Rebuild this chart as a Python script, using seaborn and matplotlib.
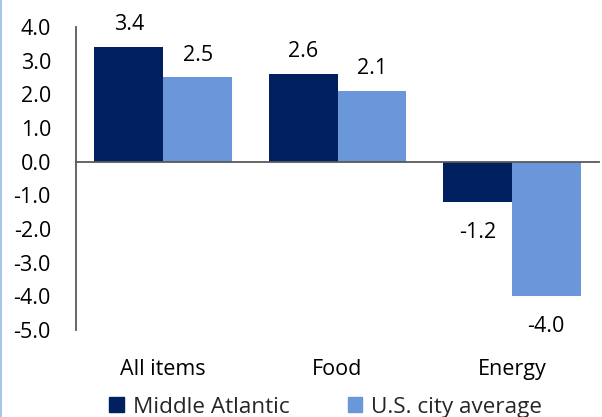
import matplotlib
matplotlib.use("Agg")
import matplotlib.pyplot as plt
import seaborn as sns
import pandas as pd
import numpy as np
from matplotlib.patches import Rectangle
from matplotlib.lines import Line2D

categories = ["All items", "Food", "Energy"]
series_names = ["Middle Atlantic", "U.S. city average"]
middle_atlantic = [3.4, 2.6, -1.2]
us_city_average = [2.5, 2.1, -4.0]
y_ticks = [4.0, 3.0, 2.0, 1.0, 0.0, -1.0, -2.0, -3.0, -4.0, -5.0]

colors = ["#002060", "#6997DA"]

df = pd.DataFrame({
    "category": categories * 2,
    "series": [series_names[0]] * 3 + [series_names[1]] * 3,
    "value": middle_atlantic + us_city_average,
})

sns.set_theme(style="white")
plt.rcParams["font.family"] = ["Open Sans", "DejaVu Sans"]
FS = 15.5

fig = plt.figure(figsize=(6.02, 4.17), dpi=100)
ax = fig.add_axes([76 / 602, 1 - 330 / 417, (599 - 76) / 602, (330 - 27) / 417])

sns.barplot(data=df, x="category", y="value", hue="series", order=categories,
            hue_order=series_names, palette=colors, width=0.79, saturation=1,
            ax=ax, legend=False, edgecolor="none")

ax.set_ylim(-5, 4)
ax.set_xlim(-0.5, 2.5)
ax.set_yticks(y_ticks)
ax.set_yticklabels([f"{v:.1f}" for v in y_ticks], fontsize=FS, color="black")
ax.tick_params(axis="y", length=0, pad=18)
ax.set_xlabel("")
ax.set_ylabel("")

for s in ["top", "right"]:
    ax.spines[s].set_visible(False)
ax.spines["left"].set_color("#595959")
ax.spines["left"].set_linewidth(1.3)
ax.spines["bottom"].set_position(("data", 0))
ax.spines["bottom"].set_color("#595959")
ax.spines["bottom"].set_linewidth(1.3)

ax.set_xticks([0, 1, 2])
ax.set_xticklabels([])
ax.tick_params(axis="x", which="major", length=0)
ax.set_xticks([-0.5, 0.5, 1.5, 2.5], minor=True)
ax.tick_params(axis="x", which="minor", direction="inout", length=10,
               width=1.3, color="#595959")

sec = ax.secondary_xaxis(location=0)
sec.set_xticks([0, 1, 2])
sec.set_xticklabels(categories, fontsize=FS, color="black")
sec.tick_params(length=0, pad=21)
sec.spines["bottom"].set_visible(False)

for cont in ax.containers:
    vals = cont.datavalues
    pos = [f"{v:.1f}" if v >= 0 else "" for v in vals]
    neg = [f"{v:.1f}" if v < 0 else "" for v in vals]
    ax.bar_label(cont, labels=pos, padding=8.5, fontsize=FS, color="black")
    ax.bar_label(cont, labels=neg, padding=14, fontsize=FS, color="black")

handles = [Rectangle((0, 0), 1, 1, color=c) for c in colors]
fig.legend(handles, series_names, loc="lower center", ncol=2, frameon=False,
           fontsize=16.2, bbox_to_anchor=(0.541, -0.05), handlelength=0.65,
           handleheight=0.65, handletextpad=0.4, columnspacing=2.6)

fig.add_artist(Line2D([0.001, 0.001], [0, 1], transform=fig.transFigure,
                      color="#A9C4EB", linewidth=1.5))

fig.savefig("out.png", dpi=100)
